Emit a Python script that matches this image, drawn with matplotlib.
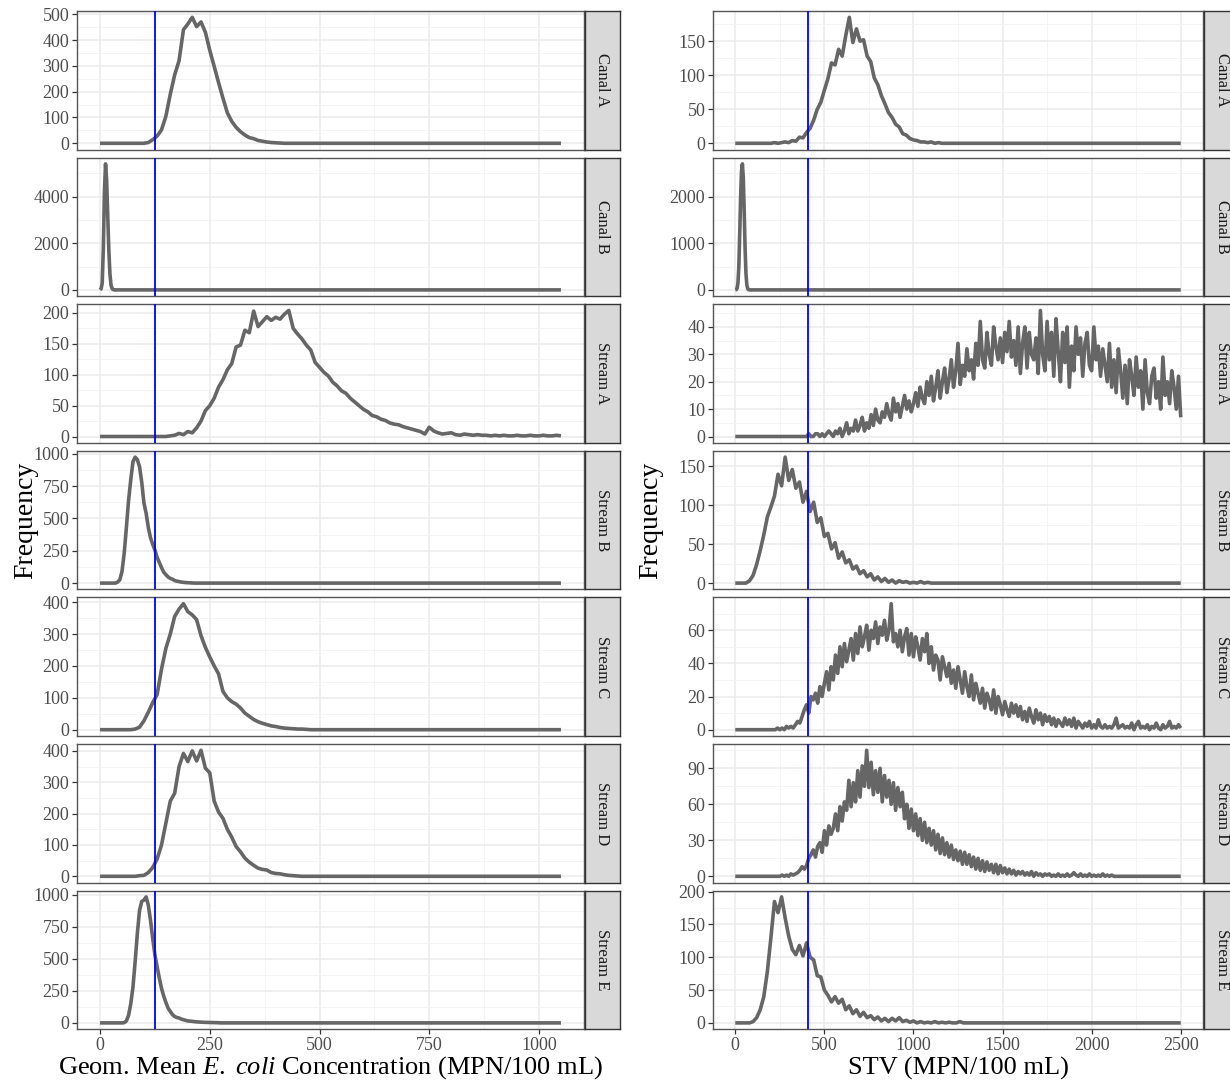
import matplotlib.pyplot as plt
import numpy as np
from matplotlib.ticker import AutoMinorLocator, FixedLocator, NullFormatter

plt.rcParams["font.family"] = ["Liberation Serif", "DejaVu Serif"]
plt.rcParams["mathtext.fontset"] = "custom"
plt.rcParams["mathtext.rm"] = "Liberation Serif"
plt.rcParams["mathtext.it"] = "Liberation Serif:italic"

sites = ["Canal A", "Canal B", "Stream A", "Stream B", "Stream C", "Stream D", "Stream E"]

# criteria (blue lines)
gm_limit = 126
stv_limit = 410
gm_end = 1050
stv_end = 2500

# ---- geometric mean frequency polygons: first bin, bin step, counts ----
gm_starts = [100, 0, 150, 30, 70, 80, 50]
gm_steps = [10, 2.5, 10, 5, 10, 10, 5]

gm_canal_a = [0, 3, 14, 28, 52, 105, 190, 265, 320, 440, 462, 488, 452, 470, 430,
              360, 298, 235, 175, 118, 85, 62, 45, 32, 22, 18, 11, 8, 5, 3, 2, 1, 0]
gm_canal_b = [0, 50, 300, 1800, 4200, 5400, 4700, 3200, 1700, 700, 200, 60, 10, 0]
gm_stream_a = [0, 1, 2, 5, 3, 8, 6, 14, 25, 42, 50, 62, 80, 92, 108, 118, 145, 148,
               172, 168, 203, 178, 186, 194, 188, 193, 190, 198, 204, 175, 166, 158,
               148, 140, 120, 112, 104, 98, 88, 82, 74, 70, 62, 56, 50, 44, 40, 34,
               32, 28, 26, 22, 20, 19, 16, 14, 12, 10, 8, 4, 15, 9, 6, 4, 5, 6, 3, 2,
               4, 3, 2, 3, 2, 2, 1, 2, 1, 2, 1, 1, 2, 1, 1, 2, 1, 1, 2, 1, 1, 2, 1]
gm_stream_b = [0, 0, 8, 25, 90, 230, 430, 640, 800, 940, 975, 955, 900, 780, 620,
               540, 430, 350, 300, 255, 200, 160, 120, 85, 65, 48, 36, 30, 20, 15,
               12, 8, 6, 4, 3, 2, 1, 0]
gm_stream_c = [0, 2, 8, 28, 55, 85, 110, 190, 255, 300, 355, 378, 395, 370, 360,
               345, 295, 258, 228, 200, 175, 120, 100, 88, 80, 68, 52, 42, 32, 25,
               20, 16, 12, 10, 7, 5, 4, 3, 2, 2, 1, 0]
gm_stream_d = [0, 2, 3, 12, 28, 55, 100, 170, 240, 265, 350, 392, 366, 400, 368,
               402, 345, 330, 240, 205, 185, 150, 125, 95, 78, 58, 45, 35, 26, 22,
               20, 12, 9, 8, 5, 3, 2, 1, 0]
gm_stream_e = [0, 2, 15, 60, 150, 280, 480, 700, 880, 950, 960, 985, 920, 800, 660,
               530, 440, 350, 270, 210, 160, 115, 90, 65, 50, 42, 38, 30, 25, 20,
               15, 14, 12, 10, 8, 7, 6, 5, 4, 4, 3, 3, 2, 2, 1, 0]

# ---- STV frequency polygons: first bin, bin step, counts ----
stv_starts = [200, 0, 400, 60, 200, 250, 80]
stv_steps = [20, 5, 12.5, 20, 12.5, 12.5, 20]

stv_canal_a = [0, 1, 0, 1, 2, 1, 4, 3, 9, 8, 16, 22, 34, 50, 60, 78, 95, 118, 115,
               138, 128, 158, 185, 148, 168, 150, 152, 128, 120, 96, 86, 70, 58, 45,
               38, 28, 24, 14, 12, 7, 5, 4, 2, 2, 1, 2, 0, 1, 0]
stv_canal_b = [0, 5, 30, 150, 500, 1200, 2000, 2550, 2700, 2400, 1700, 900, 350,
               100, 25, 5, 0]
stv_stream_a = [0, 1, 0, 0, 1, 1, 0, 1,
                0, 1, 2, 1, 0, 2, 1, 3,
                0, 2, 5, 1, 3, 2, 6, 2,
                4, 7, 2, 5, 3, 8, 4, 10,
                6, 5, 9, 7, 12, 8, 6, 14,
                9, 12, 7, 11, 15, 10, 13, 9,
                12, 16, 11, 18, 14, 12, 20, 15,
                22, 13, 18, 24, 14, 20, 25, 16,
                21, 28, 18, 24, 34, 19, 26, 22,
                32, 24, 28, 21, 34, 26, 42, 28,
                25, 38, 30, 26, 40, 33, 28, 36,
                27, 38, 31, 42, 29, 35, 26, 40,
                23, 34, 40, 25, 38, 30, 28, 36,
                23, 46, 30, 24, 42, 28, 38, 22,
                43, 31, 20, 38, 27, 40, 18, 33,
                24, 40, 30, 36, 22, 34, 38, 26,
                24, 40, 28, 33, 22, 32, 26, 20,
                34, 18, 28, 16, 32, 24, 14, 26,
                12, 28, 22, 15, 29, 18, 24, 10,
                28, 16, 12, 22, 25, 14, 20, 10,
                29, 15, 20, 12, 24, 18, 10, 22,
                7]
stv_stream_b = [0, 3, 10, 24, 42, 62, 85, 98, 112, 140, 125, 162, 132, 146, 122,
                130, 104, 118, 92, 104, 78, 84, 60, 64, 44, 52, 32, 40, 26, 30, 18,
                22, 12, 16, 8, 12, 4, 8, 2, 6, 1, 4, 0, 3, 1, 2, 0, 1, 0, 2, 0, 1, 0]
stv_stream_c = [0, 0, 0, 1, 0, 1, 0, 2,
                1, 2, 1, 3, 5, 4, 8, 12,
                15, 10, 20, 18, 22, 16, 26, 20,
                28, 35, 24, 38, 30, 45, 34, 50,
                38, 52, 41, 48, 55, 42, 58, 46,
                62, 50, 56, 63, 48, 60, 55, 65,
                52, 62, 57, 66, 54, 60, 76, 53,
                58, 50, 60, 47, 56, 61, 45, 58,
                44, 56, 50, 42, 55, 47, 58, 40,
                50, 36, 45, 42, 30, 44, 38, 32,
                40, 28, 36, 25, 38, 30, 22, 35,
                26, 20, 33, 18, 28, 22, 16, 25,
                13, 22, 18, 12, 24, 10, 20, 15,
                9, 17, 12, 8, 16, 10, 15, 8,
                14, 6, 11, 5, 13, 8, 4, 12,
                6, 10, 3, 9, 5, 8, 3, 7,
                2, 6, 4, 2, 7, 3, 6, 2,
                7, 1, 5, 3, 1, 4, 2, 5,
                1, 3, 1, 6, 2, 1, 3, 1,
                2, 1, 3, 7, 1, 2, 3, 1,
                2, 1, 4, 0, 3, 5, 1, 2,
                1, 3, 0, 2, 1, 4, 1, 0,
                3, 1, 2, 5, 1, 2, 1, 3,
                1]
stv_stream_d = [0, 1, 0, 1, 0, 2, 1, 2,
                3, 5, 8, 6, 9, 15, 18, 22,
                16, 25, 28, 20, 38, 26, 42, 35,
                40, 52, 38, 58, 46, 62, 55, 80,
                58, 78, 62, 88, 66, 92, 75, 105,
                74, 95, 68, 88, 70, 90, 62, 84,
                66, 80, 60, 78, 55, 74, 58, 70,
                48, 60, 40, 56, 38, 52, 34, 48,
                30, 45, 28, 40, 26, 38, 22, 35,
                19, 32, 18, 28, 16, 26, 14, 22,
                13, 21, 10, 20, 10, 18, 8, 16,
                6, 15, 5, 13, 4, 12, 5, 10,
                3, 10, 2, 9, 3, 7, 2, 6,
                2, 5, 1, 4, 2, 4, 1, 3,
                1, 4, 0, 3, 1, 2, 0, 2,
                1, 2, 0, 1, 0, 2, 0, 1,
                0, 2, 0, 1, 3, 1, 0, 2,
                0, 1, 0, 2, 0, 1, 0, 1,
                0, 2, 0, 1, 0, 1, 0, 0]
stv_stream_e = [0, 2, 8, 20, 40, 78, 130, 185, 168, 192, 160, 132, 112, 104, 118,
                102, 122, 100, 96, 72, 70, 50, 42, 32, 40, 30, 36, 20, 26, 14, 20, 10,
                16, 8, 11, 5, 9, 3, 7, 2, 7, 3, 8, 2, 4, 1, 3, 0, 2, 0, 1, 0, 2, 0, 1,
                0, 1, 0, 0, 2, 0]

gm_counts = [gm_canal_a, gm_canal_b, gm_stream_a, gm_stream_b, gm_stream_c,
             gm_stream_d, gm_stream_e]
stv_counts = [stv_canal_a, stv_canal_b, stv_stream_a, stv_stream_b, stv_stream_c,
              stv_stream_d, stv_stream_e]

gm_yticks = [[0, 100, 200, 300, 400, 500], [0, 2000, 4000], [0, 50, 100, 150, 200],
             [0, 250, 500, 750, 1000], [0, 100, 200, 300, 400],
             [0, 100, 200, 300, 400], [0, 250, 500, 750, 1000]]
stv_yticks = [[0, 50, 100, 150], [0, 1000, 2000], [0, 10, 20, 30, 40], [0, 50, 100, 150],
              [0, 20, 40, 60], [0, 30, 60, 90], [0, 50, 100, 150, 200]]
gm_xticks = [0, 250, 500, 750, 1000]
stv_xticks = [0, 500, 1000, 1500, 2000, 2500]

W, H = 1230, 1086
fig = plt.figure(figsize=(W / 100, H / 100), dpi=100)

PANEL_TOP = 11
PANEL_H = 138.6
PANEL_GAP = 8
LINE_GREY = "#666666"
BORDER = "#555555"


def polygon(start, step, counts, end):
  x = start + step * np.arange(len(counts))
  y = np.asarray(counts, dtype=float)
  if x[0] > 0:
    x = np.r_[0, x]
    y = np.r_[0, y]
  if x[-1] < end:
    x = np.r_[x, end]
    y = np.r_[y, 0]
  return x, y


def draw_column(left, right, strip_w, starts, steps, counts, yticks, xticks,
                end, limit, xlabel, ylabel_x):
  for i, site in enumerate(sites):
    top = PANEL_TOP + i * (PANEL_H + PANEL_GAP)
    ax = fig.add_axes([left / W, 1 - (top + PANEL_H) / H, (right - left) / W, PANEL_H / H])
    x, y = polygon(starts[i], steps[i], counts[i], end)
    ymax = y.max()
    ax.set_ylim(-0.05 * ymax, 1.05 * ymax)
    ax.set_xlim(-0.05 * end, 1.05 * end)
    ax.grid(which="major", color="#EBEBEB", linewidth=1.1)
    ax.grid(which="minor", color="#F2F2F2", linewidth=0.6)
    ax.set_axisbelow(True)
    ax.plot(x, y, color=LINE_GREY, linewidth=2.6, solid_joinstyle="round",
            solid_capstyle="butt", zorder=3)
    ax.axvline(limit, color="#0000FF", linewidth=1.3, zorder=4)
    ax.yaxis.set_major_locator(FixedLocator(yticks[i]))
    ax.xaxis.set_major_locator(FixedLocator(xticks))
    ax.xaxis.set_minor_locator(AutoMinorLocator(2))
    ax.yaxis.set_minor_locator(AutoMinorLocator(2))
    ax.tick_params(which="minor", length=0)
    ax.tick_params(which="major", direction="out", length=3.5, width=0.9,
                   color="#333333", labelsize=13, labelcolor="#4D4D4D", pad=2)
    if i < len(sites) - 1:
      ax.tick_params(axis="x", which="major", length=0)
      ax.xaxis.set_major_formatter(NullFormatter())
    for sp in ax.spines.values():
      sp.set_color(BORDER)
      sp.set_linewidth(1.0)
    # facet strip on the right
    sax = fig.add_axes([(right + 1) / W, 1 - (top + PANEL_H) / H, strip_w / W, PANEL_H / H])
    sax.set_facecolor("#D9D9D9")
    sax.set_xticks([])
    sax.set_yticks([])
    for sp in sax.spines.values():
      sp.set_color("#333333")
      sp.set_linewidth(1.0)
    sax.text(0.5, 0.5, site, rotation=270, ha="center", va="center",
             fontsize=12, color="#1A1A1A", transform=sax.transAxes)
  fig.text((left + right) / 2 / W, 1 - 1068 / H, xlabel, ha="center", va="center",
           fontsize=19)
  mid = PANEL_TOP + (7 * PANEL_H + 6 * PANEL_GAP) / 2
  fig.text(ylabel_x / W, 1 - mid / H, "Frequency", rotation=90, ha="center",
           va="center", fontsize=20)


draw_column(77, 584, 35, gm_starts, gm_steps, gm_counts, gm_yticks, gm_xticks,
            gm_end, gm_limit,
            r"Geom. Mean $\mathit{E.\ coli}$ Concentration (MPN/100 mL)", 26)
draw_column(713, 1203, 35, stv_starts, stv_steps, stv_counts, stv_yticks, stv_xticks,
            stv_end, stv_limit, "STV (MPN/100 mL)", 651)

fig.savefig("out.png", dpi=100)
